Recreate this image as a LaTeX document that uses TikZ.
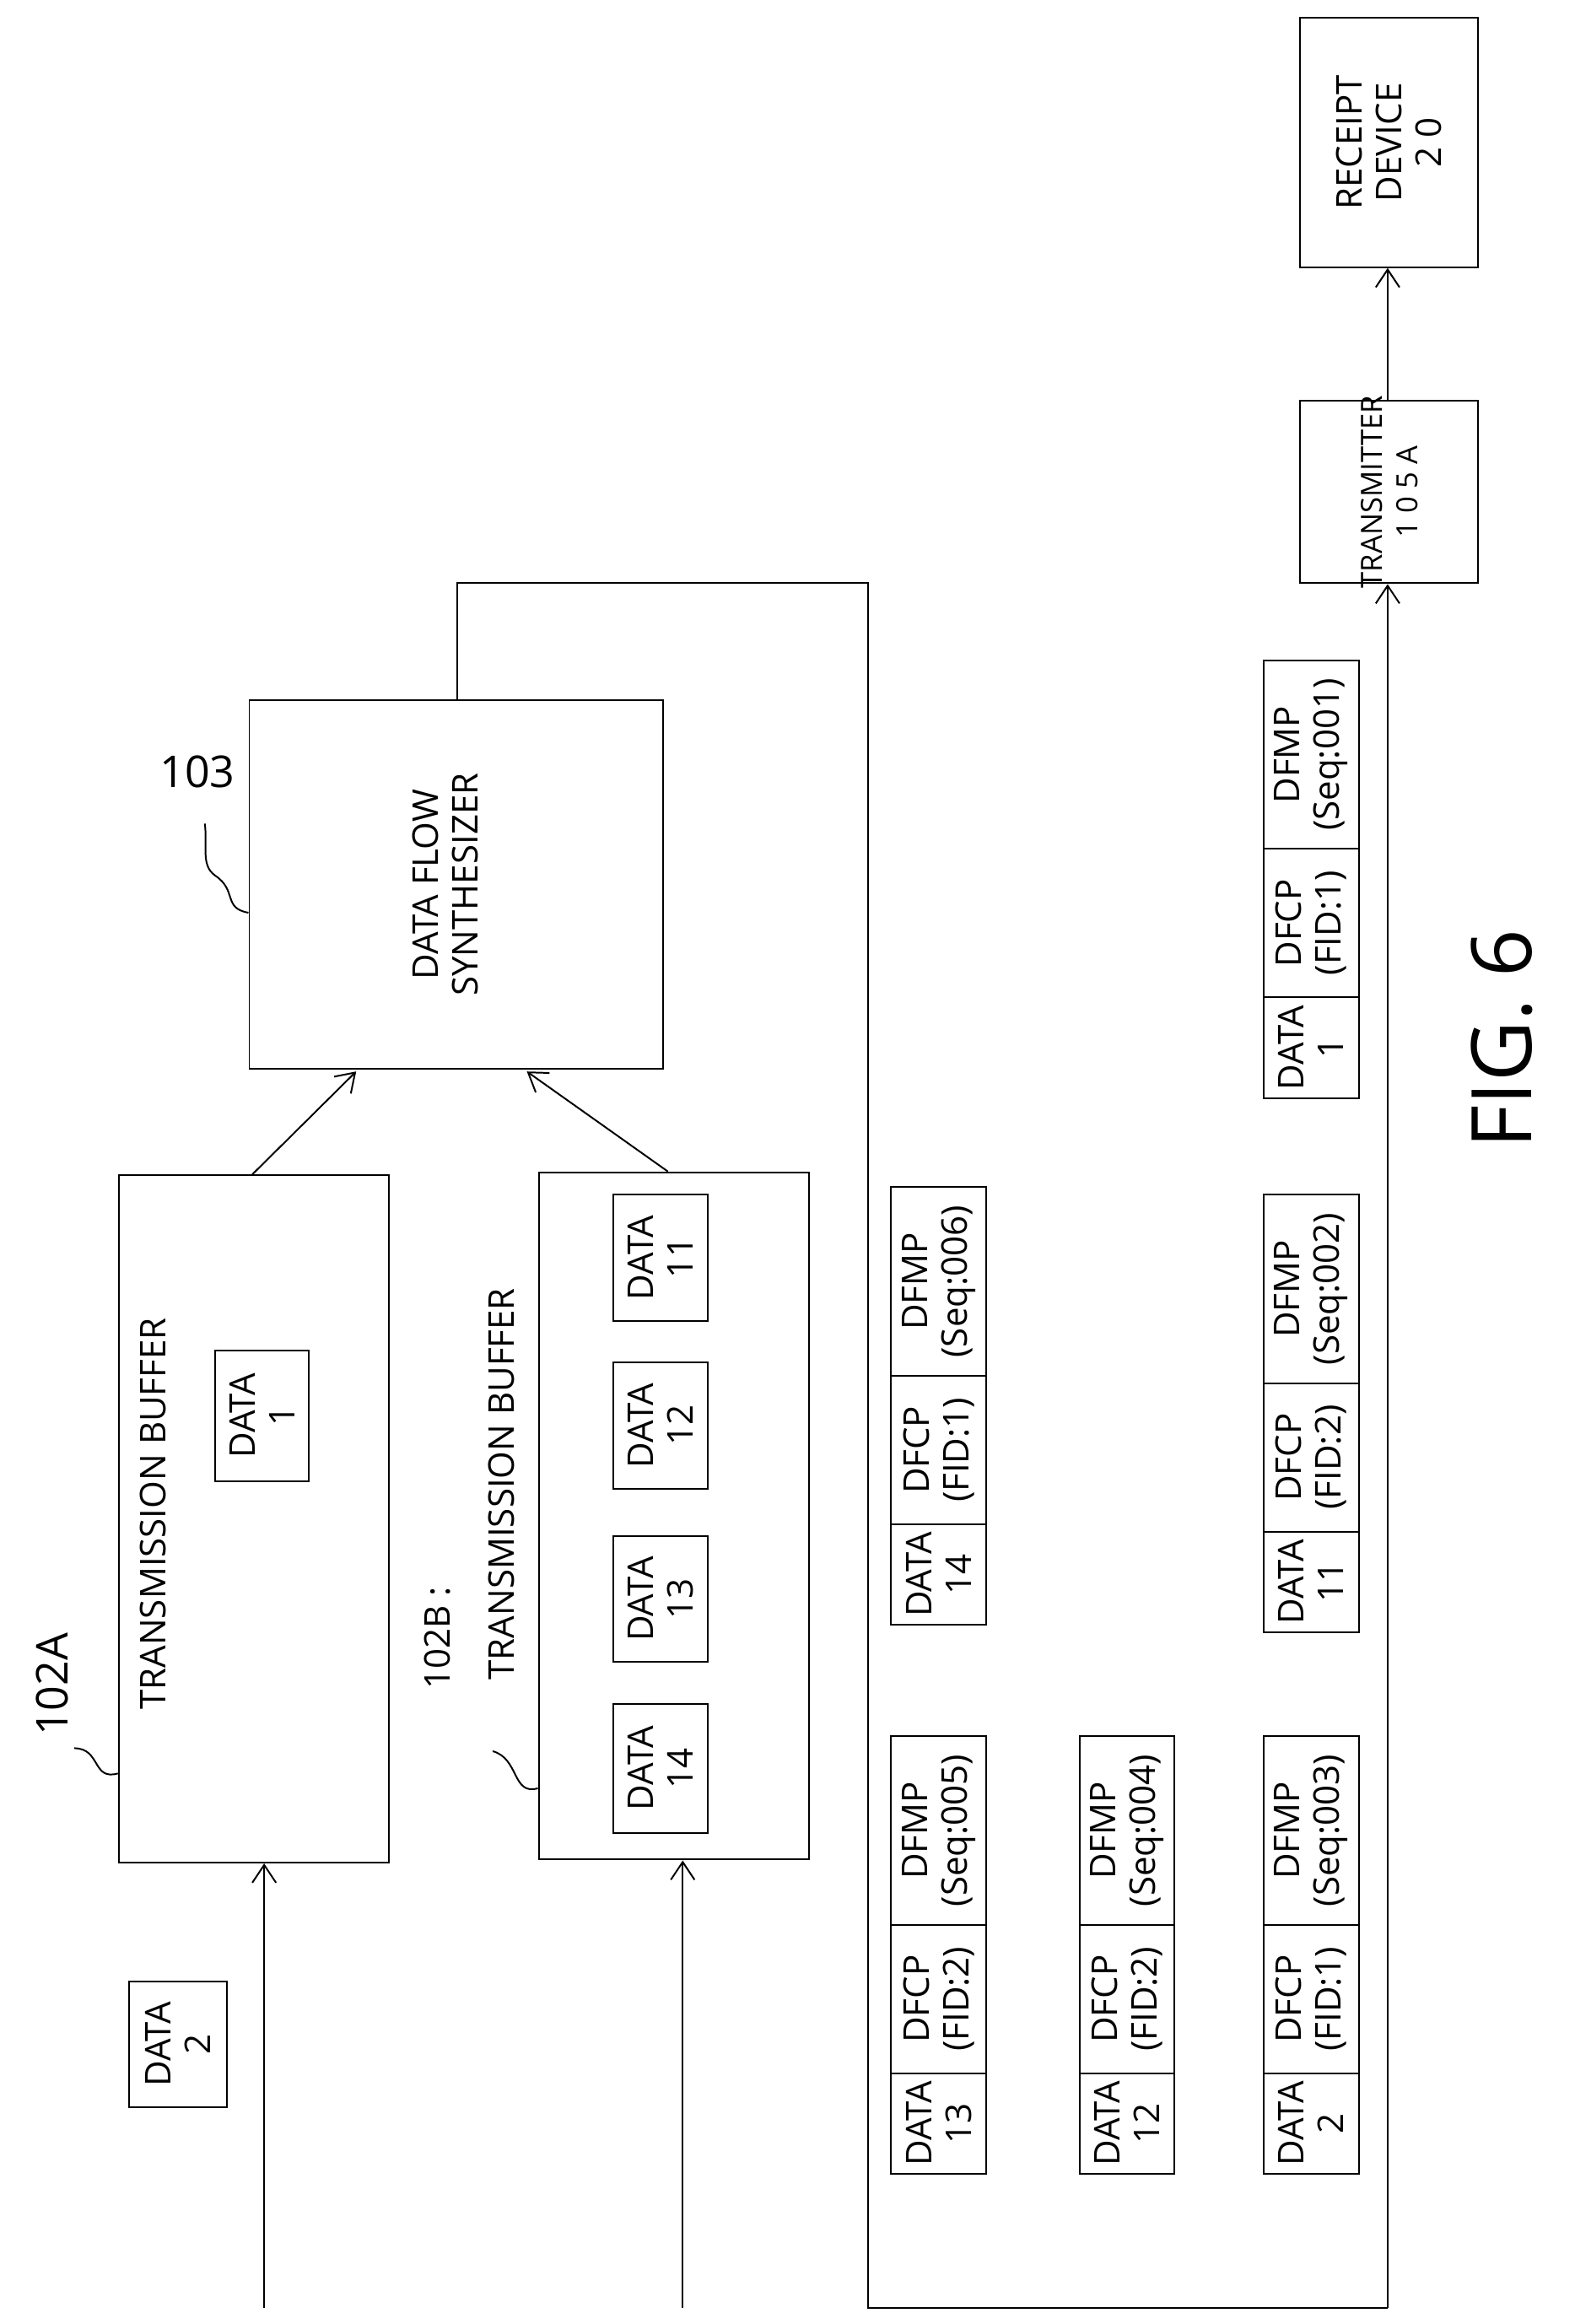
\documentclass[tikz,border=0pt]{standalone}
\usepackage{fontspec}
\setmainfont{Open Sans}
\usetikzlibrary{arrows.meta}

\newcommand\pkt[6]{%
  \node[cell, minimum width=1.7cm] (#1d) at (#2,#3-34) {DATA\\#4};
  \node[cell, minimum width=2.5cm] (#1c) at (#2,#3-118) {DFCP\\(FID:#5)};
  \node[cell, minimum width=3.175cm] (#1m) at (#2,#3-231.5) {DFMP\\(Seq:#6)};}

\begin{document}
\begin{tikzpicture}[x=0.025cm, y=-0.025cm,
  every node/.style={font=\fontsize{17}{19}\selectfont},
  cell/.style={draw, thick, rotate=90, inner sep=0pt, align=center, minimum height=1.6cm},
  box/.style={draw, thick, inner sep=0pt},
  lbl/.style={rotate=90, inner sep=1pt, align=center},
  wire/.style={thick},
  arr/.style={thick, -{Straight Barb[length=3mm,width=4mm]}}
]
\useasboundingbox (0,0) rectangle (1061,1566);

% buffers and synthesizer
\node[box, minimum width=4.55cm, minimum height=11.575cm] (bufA) at (171,1023.5) {};
\node[box, minimum width=4.55cm, minimum height=11.575cm] (bufB) at (454,1021.5) {};
\node[box, minimum width=6.975cm, minimum height=6.2cm] (dfs) at (307.5,596) {};
\node[lbl] at (300,596) {DATA FLOW\\SYNTHESIZER};
\node[box, minimum width=3cm, minimum height=3.075cm] (tx) at (936,331.5) {};
\node[lbl, font=\fontsize{14}{17}\selectfont] at (936,331.5) {TRANSMITTER\\1 0 5 A};
\node[box, minimum width=3cm, minimum height=4.2cm] (rx) at (936,96) {};
\node[lbl] at (936,96) {RECEIPT\\DEVICE\\2 0};

% buffer contents
\node[lbl] at (103,1020) {TRANSMISSION BUFFER};
\node[cell, minimum width=2.2cm, minimum height=1.575cm] (dA1) at (176.5,954) {DATA\\1};
\node[lbl, anchor=south west] (labB) at (305,1140) {102B :};
\node[lbl] at (338,1000) {TRANSMISSION BUFFER};
\node[cell, minimum width=2.175cm] (dB14) at (445,1191.5) {DATA\\14};
\node[cell, minimum width=2.125cm] (dB13) at (445,1077.5) {DATA\\13};
\node[cell, minimum width=2.125cm] (dB12) at (445,960.5) {DATA\\12};
\node[cell, minimum width=2.125cm] (dB11) at (445,847.5) {DATA\\11};
\node[cell, minimum width=2.125cm, minimum height=1.65cm] (d2) at (120,1377.5) {DATA\\2};

% reference labels
\node[lbl, font=\fontsize{21}{24}\selectfont] (labA) at (35,1135) {102A};
\draw[wire] (bufA.west |- 0,1195) .. controls (62,1200) and (68,1178) .. (50,1178);
\draw[wire] (bufB.west |- 0,1205) .. controls (345,1210) and (350,1185) .. (332,1180);
\node[font=\fontsize{21}{24}\selectfont] (lab103) at (133,520) {103};
\draw[wire] (dfs.north west |- 0,615) .. controls (150,612) and (160,600) .. (145,590) .. controls (135,583) and (140,570) .. (138,555);

% packets
\pkt{p1}{632.5}{1465}{13}{2}{005}
\pkt{p2}{632.5}{1095}{14}{1}{006}
\pkt{p3}{759.5}{1465}{12}{2}{004}
\pkt{p4}{883.5}{1465}{2}{1}{003}
\pkt{p5}{883.5}{1100}{11}{2}{002}
\pkt{p6}{883.5}{740}{1}{1}{001}

% connectors
\coordinate (inA) at (178,1555);
\coordinate (inB) at (460,1555);
\draw[arr] (inA) -- (bufA.south -| inA);
\draw[arr] (inB) -- (bufB.south -| inB);
\draw[arr] (bufA.north -| 170,0) -- (240,722);
\draw[arr] (bufB.north -| 450,0) -- (355,722);
\draw[wire] (dfs.north -| 308,0) -- (308,393) -- (585,393) -- (585,1555) -- (935,1555)
  edge[arr] (tx.south -| 935,0);
\draw[arr] (tx.north -| 935,0) -- (rx.south -| 935,0);

\node[lbl, font=\fontsize{40}{44}\selectfont] (fig) at (1012,700) {FIG. 6};
\end{tikzpicture}
\end{document}
